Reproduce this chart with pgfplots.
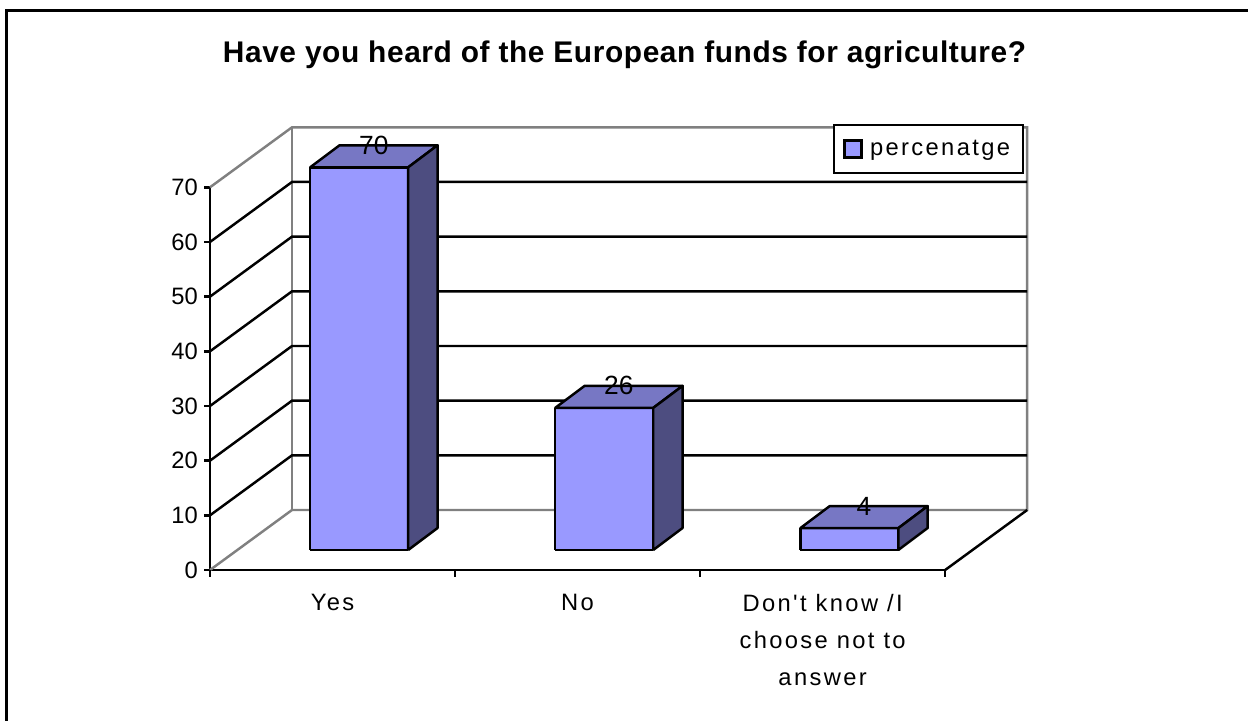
\documentclass[border=0pt]{standalone}
\usepackage{pgfplots}
\pgfplotsset{compat=1.18}
\usepackage{pgfplotstable}
\usepackage{fontspec}
\setmainfont{Liberation Sans}[Ligatures=TeXOff]
\newfontfamily\lsp{Liberation Sans}[Ligatures=TeXOff, LetterSpace=10]
\newfontfamily\tsp{Liberation Sans}[Ligatures=TeXOff, LetterSpace=2]

\definecolor{barfront}{RGB}{153,153,255}
\definecolor{bartop}{RGB}{119,119,196}
\definecolor{barside}{RGB}{77,77,128}
\definecolor{wallgray}{RGB}{128,128,128}

% bar values (percent)
\pgfplotstableread{
idx v
0 70
1 26
2 4
}\bardata

% vertex tables for the 3D faces: s = left/right edge, f = depth fraction, h = 0 base / 1 top
\pgfplotstableread{
s f h
-1 0.3333 0
1 0.3333 0
1 0.3333 1
-1 0.3333 1
-1 0.3333 0
}\frontface
\pgfplotstableread{
s f h
-1 0.3333 1
1 0.3333 1
1 0.70 1
-1 0.70 1
-1 0.3333 1
}\topface
\pgfplotstableread{
s f h
1 0.3333 0
1 0.70 0
1 0.70 1
1 0.3333 1
1 0.3333 0
}\sideface

\begin{document}
\begin{tikzpicture}
\useasboundingbox (0,0) rectangle (25cm,14.4cm);
\begin{scope}
\clip (0,0) rectangle (25cm,14.4cm);
\draw[line width=0.06cm] (0.13cm,-1cm) -- (0.13cm,14.184cm) -- (24.95cm,14.184cm);
\end{scope}
\node[font=\tsp\fontsize{17}{20}\selectfont\bfseries, anchor=base] at (12.49cm,13.14cm)
  {Have you heard of the European funds for agriculture?};
\begin{axis}[
  at={(4.2cm,3cm)}, anchor=origin,
  x=0.02cm, y=0.109346cm,
  xmin=0, xmax=735, ymin=0, ymax=70,
  clip=false,
  axis x line*=bottom, axis y line*=left,
  axis line style={line width=1.4pt, black},
  tick align=outside,
  major tick length=0.12cm,
  ytick={0,10,...,70},
  ytick style={line width=1.4pt, black},
  xtick={122.5,367.5,612.5},
  xticklabels={Yes,No,{Don't know /I\\choose not to\\answer}},
  xtick style={draw=none},
  yticklabel style={font=\fontsize{13.5}{16}\selectfont},
  xticklabel style={font=\lsp\fontsize{13.5}{21}\selectfont, align=center, yshift=-0.24cm},
  /pgf/number format/assume math mode=true,
  legend style={at={(axis description cs:1.1075,1.1657)}, anchor=north east,
    draw=black, line width=1.4pt, fill=white,
    font=\lsp\fontsize{13.5}{16}\selectfont,
    inner xsep=5.3pt, inner ysep=6.5pt,
    /tikz/every odd column/.append style={column sep=0.08cm}},
  legend cell align=left,
  legend image code/.code={\draw[#1] (0cm,-0.17cm) rectangle (0.34cm,0.17cm);},
]
% back wall, side wall and floor
\draw[wallgray, line width=1.4pt] (axis cs:0,70) -- (axis cs:82,80.975) -- (axis cs:817,80.975)
   -- (axis cs:817,10.975) -- (axis cs:82,10.975) -- (axis cs:0,0);
\draw[wallgray, line width=1.4pt] (axis cs:82,80.975) -- (axis cs:82,10.975);
\draw[black, line width=1.4pt] (axis cs:735,0) -- (axis cs:817,10.975);
\draw[black, line width=1.4pt] (axis cs:0,10) -- (axis cs:82,20.975) -- (axis cs:817,20.975);
\draw[black, line width=1.4pt] (axis cs:0,20) -- (axis cs:82,30.975) -- (axis cs:817,30.975);
\draw[black, line width=1.4pt] (axis cs:0,30) -- (axis cs:82,40.975) -- (axis cs:817,40.975);
\draw[black, line width=1.4pt] (axis cs:0,40) -- (axis cs:82,50.975) -- (axis cs:817,50.975);
\draw[black, line width=1.4pt] (axis cs:0,50) -- (axis cs:82,60.975) -- (axis cs:817,60.975);
\draw[black, line width=1.4pt] (axis cs:0,60) -- (axis cs:82,70.975) -- (axis cs:817,70.975);
\pgfplotsinvokeforeach{0,245,490,735}{
  \draw[black, line width=1.4pt] (axis cs:#1,0) -- ++(0,-0.14cm);
}
% 3D bars
\pgfplotsinvokeforeach{0,1,2}{
  \pgfplotstablegetelem{#1}{v}\of\bardata
  \edef\barval{\pgfplotsretval}
  \addplot[forget plot, fill=barfront, draw=black, line width=1.4pt, line join=round]
    table[x expr={122.5+245*#1+49*\thisrow{s}+80*\thisrow{f}},
          y expr={10.975*\thisrow{f}+\barval*\thisrow{h}}]{\frontface};
  \addplot[forget plot, fill=bartop, draw=black, line width=1.4pt, line join=round]
    table[x expr={122.5+245*#1+49*\thisrow{s}+80*\thisrow{f}},
          y expr={10.975*\thisrow{f}+\barval*\thisrow{h}}]{\topface};
  \addplot[forget plot, fill=barside, draw=black, line width=1.4pt, line join=round]
    table[x expr={122.5+245*#1+49*\thisrow{s}+80*\thisrow{f}},
          y expr={10.975*\thisrow{f}+\barval*\thisrow{h}}]{\sideface};
}
% value labels
\addplot[forget plot, draw=none, nodes near coords, point meta=explicit,
  every node near coord/.append style={anchor=center, font=\fontsize{15}{18}\selectfont}]
  table[x expr={122.5+245*\thisrow{idx}+41.3}, y expr={\thisrow{v}+7.68}, meta=v]{\bardata};
\addlegendimage{fill=barfront, draw=black, line width=1.4pt}
\addlegendentry{percenatge}
\end{axis}
\end{tikzpicture}
\end{document}
